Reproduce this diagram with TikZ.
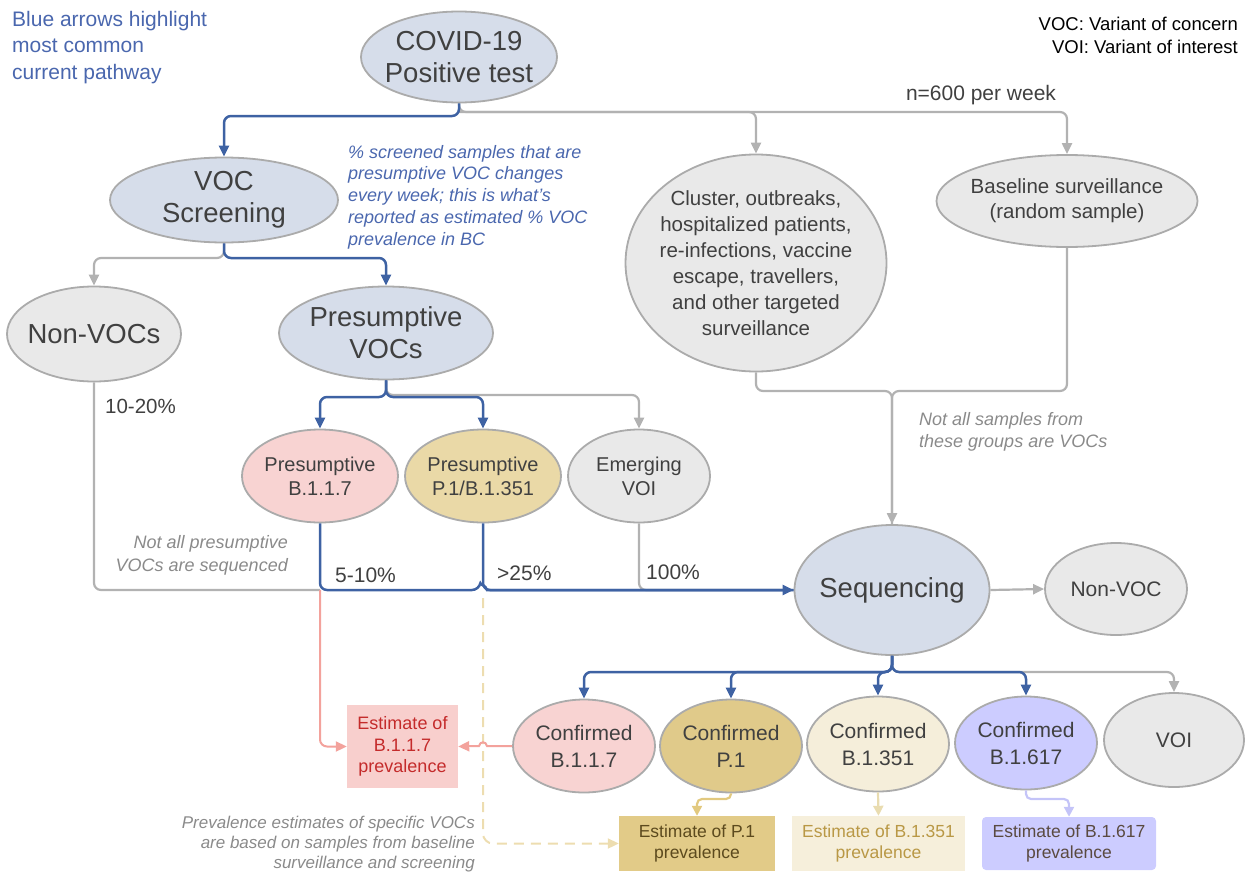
\documentclass[tikz,border=0pt]{standalone}
\usepackage{fontspec}
\setmainfont{Liberation Sans}
\usetikzlibrary{shapes.geometric,arrows.meta,calc}
\definecolor{ellblue}{HTML}{D6DDEA}
\definecolor{ellgray}{HTML}{E9E9E9}
\definecolor{ellpink}{HTML}{F8D3D2}
\definecolor{elltan}{HTML}{EAD9A7}
\definecolor{ellgold}{HTML}{E0CA8A}
\definecolor{ellcream}{HTML}{F5EEDA}
\definecolor{elllav}{HTML}{CCCCFF}
\definecolor{bordc}{HTML}{ABABAB}
\definecolor{txtc}{HTML}{404040}
\definecolor{bluec}{HTML}{3E62A3}
\definecolor{grayc}{HTML}{B2B2B2}
\definecolor{pinkc}{HTML}{F3A29C}
\definecolor{bluetxt}{HTML}{4A67AE}
\definecolor{itgray}{HTML}{8A8A8A}
\definecolor{dashc}{HTML}{EDDDB0}
\definecolor{goldarr}{HTML}{E2C97F}
\definecolor{creamarr}{HTML}{E9DCB0}
\definecolor{lavarr}{HTML}{C4C4F8}
\definecolor{estpink}{HTML}{F8CFCD}
\definecolor{estgold}{HTML}{E2CB88}
\definecolor{estcream}{HTML}{F6EFDB}
\definecolor{redtxt}{HTML}{C42B2B}
\definecolor{browntxt}{HTML}{5C4A1E}
\definecolor{goldtxt}{HTML}{B99845}
\definecolor{lavtxt}{HTML}{5A4A40}
\begin{document}
\begin{tikzpicture}[x=1pt,y=-1pt,
  ell/.style={ellipse, draw=bordc, line width=1.8pt, inner sep=0pt},
  txt/.style={align=center, text=txtc, inner sep=0pt},
  big/.style={font=\fontsize{27.5}{32}\selectfont},
  mid/.style={font=\fontsize{20}{24}\selectfont},
  clf/.style={font=\fontsize{20.5}{26}\selectfont},
  cnf/.style={font=\fontsize{21}{27}\selectfont},
  est/.style={rectangle, inner sep=0pt, align=center, font=\fontsize{17.5}{21}\selectfont},
  tipb/.style={-{Triangle[length=11pt,width=10pt]}},
  bline/.style={draw=bluec, line width=2.5pt, rounded corners=7pt},
  gline/.style={draw=grayc, line width=2.2pt, rounded corners=7pt},
  barr/.style={bline, tipb},
  garr/.style={gline, tipb},
  pinkarr/.style={draw=pinkc, line width=2pt, rounded corners=7pt, -{Triangle[length=11pt,width=10pt]}},
  dasharr/.style={draw=dashc, line width=2pt, rounded corners=10pt, dash pattern=on 10pt off 7pt, -{Triangle[length=11pt,width=10pt]}},
  smallarr/.style={line width=2.2pt, rounded corners=5pt, -{Triangle[length=10pt,width=10pt]}},
  ital/.style={inner sep=0pt, font=\itshape}
]
\useasboundingbox (0,0) rectangle (1246,875);

% ---------- ellipse nodes ----------
\node[ell, fill=ellblue, minimum width=196pt, minimum height=91pt] (covid) at (459,57) {};
\node[txt, big] (covidt) at (covid) {COVID-19\\Positive test};

\node[ell, fill=ellblue, minimum width=228pt, minimum height=85pt] (voc) at (224,200) {};
\node[txt, big] (voct) at (voc) {VOC\\Screening};

\node[ell, fill=ellgray, minimum width=174pt, minimum height=95pt] (nonvocs) at (94,334) {};
\node[txt, big] (nonvocst) at (nonvocs) {Non-VOCs};

\node[ell, fill=ellblue, minimum width=214pt, minimum height=93pt] (pvocs) at (386,333) {};
\node[txt, big] (pvocst) at (pvocs) {Presumptive\\VOCs};

\node[ell, fill=ellpink, minimum width=156pt, minimum height=93pt] (pb117) at (320,476) {};
\node[txt, mid] (pb117t) at (pb117) {Presumptive\\B.1.1.7};

\node[ell, fill=elltan, minimum width=156pt, minimum height=93pt] (pp1) at (483,476) {};
\node[txt, mid] (pp1t) at (pp1) {Presumptive\\P.1/B.1.351};

\node[ell, fill=ellgray, minimum width=142pt, minimum height=93pt] (emerg) at (639,476) {};
\node[txt, mid] (emergt) at (emerg) {Emerging\\VOI};

\node[ell, fill=ellgray, minimum width=261pt, minimum height=217pt] (clus) at (756,263) {};
\node[txt, clf] (clust) at (clus) {Cluster, outbreaks,\\hospitalized patients,\\re-infections, vaccine\\escape, travellers,\\and other targeted\\surveillance};

\node[ell, fill=ellgray, minimum width=261pt, minimum height=92pt] (base) at (1067,201) {};
\node[txt, font=\fontsize{20.5}{25}\selectfont] (baset) at (base) {Baseline surveillance\\(random sample)};

\node[ell, fill=ellblue, minimum width=195pt, minimum height=130pt] (seq) at (892,590) {};
\node[txt, big] (seqt) at (seq) {Sequencing};

\node[ell, fill=ellgray, minimum width=142pt, minimum height=92pt] (nonvoc) at (1116,589) {};
\node[txt, cnf] (nonvoct) at (nonvoc) {Non-VOC};

\node[ell, fill=ellpink, minimum width=142pt, minimum height=93pt] (cb117) at (584,746) {};
\node[txt, cnf] (cb117t) at (cb117) {Confirmed\\B.1.1.7};

\node[ell, fill=ellgold, minimum width=142pt, minimum height=93pt] (cp1) at (731,746) {};
\node[txt, cnf] (cp1t) at (cp1) {Confirmed\\P.1};

\node[ell, fill=ellcream, minimum width=142pt, minimum height=95pt] (cb1351) at (878,744) {};
\node[txt, cnf] (cb1351t) at (cb1351) {Confirmed\\B.1.351};

\node[ell, fill=elllav, minimum width=142pt, minimum height=93pt] (cb1617) at (1026,743) {};
\node[txt, cnf] (cb1617t) at (cb1617) {Confirmed\\B.1.617};

\node[ell, fill=ellgray, minimum width=140pt, minimum height=94pt] (voi) at (1174,740) {};
\node[txt, cnf] (voit) at (voi) {VOI};

% ---------- estimate boxes ----------
\node[est, fill=estpink, text=redtxt, minimum width=111pt, minimum height=83pt, font=\fontsize{18}{21.5}\selectfont] (estb117) at (402.5,746.5) {Estimate of\\B.1.1.7\\prevalence};
\node[est, fill=estgold, text=browntxt, minimum width=156pt, minimum height=55pt] (estp1) at (697,843.5) {Estimate of P.1\\prevalence};
\node[est, fill=estcream, text=goldtxt, minimum width=173pt, minimum height=55pt] (estb1351) at (878.5,843.5) {Estimate of B.1.351\\prevalence};
\node[est, fill=elllav, text=lavtxt, minimum width=174pt, minimum height=53pt, rounded corners=4pt] (estb1617) at (1069,843.5) {Estimate of B.1.617\\prevalence};

% ---------- free texts ----------
\node[inner sep=0pt, anchor=north west, align=left, text=bluetxt, font=\fontsize{21}{26.5}\selectfont] (note1) at (12,11) {Blue arrows highlight\\most common\\current pathway};
\node[inner sep=0pt, anchor=north east, align=right, text=black, font=\fontsize{18.5}{23}\selectfont] (legend) at (1238,16.5) {VOC: Variant of concern\\VOI: Variant of interest};
\node[inner sep=0pt, anchor=base, text=txtc, font=\fontsize{21}{25}\selectfont] (n600) at (981,100) {n=600 per week};
\node[ital, anchor=north west, align=left, text=bluetxt, font=\itshape\fontsize{18}{21.7}\selectfont] (scrnote) at (348,145) {\% screened samples that are\\presumptive VOC changes\\every week; this is what’s\\reported as estimated \% VOC\\prevalence in BC};
\node[inner sep=0pt, anchor=base west, text=txtc, font=\fontsize{20.5}{24}\selectfont] (p1020) at (105,413) {10-20\%};
\node[ital, anchor=north east, align=right, text=itgray, font=\itshape\fontsize{18}{23}\selectfont] (notall) at (288,535) {Not all presumptive\\VOCs are sequenced};
\node[inner sep=0pt, anchor=base west, text=txtc, font=\fontsize{21}{24}\selectfont] (p510) at (335,582) {5-10\%};
\node[inner sep=0pt, anchor=base west, text=txtc, font=\fontsize{21}{24}\selectfont] (p25) at (497,580) {>25\%};
\node[inner sep=0pt, anchor=base west, text=txtc, font=\fontsize{21}{24}\selectfont] (p100) at (646,579) {100\%};
\node[ital, anchor=north west, align=left, text=itgray, font=\itshape\fontsize{18}{22}\selectfont] (notsamp) at (919,412) {Not all samples from\\these groups are VOCs};
\node[ital, anchor=north east, align=right, text=itgray, font=\itshape\fontsize{17}{20}\selectfont] (prevnote) at (475,816) {Prevalence estimates of specific VOCs\\are based on samples from baseline\\surveillance and screening};

% ---------- levels ----------
\coordinate (lA) at (0,116);
\coordinate (lAg) at (0,112);
\coordinate (lB) at (0,258);
\coordinate (lC) at (0,397);
\coordinate (lCg) at (0,395);
\coordinate (lD) at (0,391);
\coordinate (lE) at (0,672);
\coordinate (lF) at (0,799);
\coordinate (hb) at (pp1.south |- seq.west);
\coordinate (hp) at (pp1.south |- cb117.west);

% ---------- connectors ----------
% from COVID test
\draw[garr] (covid.south) -- (covid.south |- lAg) -| (base.north);
\draw[garr] (covid.south |- lAg) -| (clus.north);
\draw[barr] (covid.south) -- (covid.south |- lA) -| (voc.north);

% from VOC screening
\draw[garr] (voc.south) -- (voc.south |- lB) -| (nonvocs.north);
\draw[barr] (voc.south) -- (voc.south |- lB) -| (pvocs.north);

% from presumptive VOCs
\draw[garr] (pvocs.south) -- (pvocs.south |- lCg) -| (emerg.north);
\draw[barr] (pvocs.south) -- (pvocs.south |- lC) -| (pp1.north);
\draw[barr] (pvocs.south) -- (pvocs.south |- lC) -| (pb117.north);

% cluster / baseline to sequencing
\draw[gline] (base.south) -- (base.south |- lD) -| (seq.north);
\draw[garr] (clus.south) -- (clus.south |- lD) -| (seq.north);

% into sequencing
\draw[gline] (nonvocs.south) |- (pb117.south |- seq.west);
\draw[gline] (emerg.south) |- (seq.west);
\draw[pinkarr] (pb117.south |- seq.west) |- (estb117.west);
\draw[dasharr] ($(hb)+(0,8)$) |- (estp1.west);
\draw[bline] (pp1.south) |- (seq.west);
\draw[barr] (pb117.south) -- (pb117.south |- seq.west) -- ($(hb)+(-4,0)$) [sharp corners] .. controls ($(hb)+(-3,-5)$) and ($(hb)+(3,-5)$) .. ($(hb)+(4,0)$) -- (seq.west);

% sequencing outputs
\draw[garr] (seq.east) -- (nonvoc.west);
\draw[garr] (seq.south) -- (seq.south |- lE) -| (voi.north);
\draw[barr] (seq.south) -- (seq.south |- lE) -| (cb117.north);
\draw[barr] (seq.south) -- (seq.south |- lE) -| (cp1.north);
\draw[barr] (seq.south) -- (seq.south |- lE) -| (cb1351.north);
\draw[barr] (seq.south) -- (seq.south |- lE) -| (cb1617.north);

% confirmed to estimates
\draw[pinkarr, sharp corners] (cb117.west) -- ($(hp)+(4,0)$) .. controls ($(hp)+(3,-5)$) and ($(hp)+(-3,-5)$) .. ($(hp)+(-4,0)$) -- (estb117.east);
\draw[smallarr, draw=goldarr] (cp1.south) -- (cp1.south |- lF) -| (estp1.north);
\draw[smallarr, draw=creamarr] (cb1351.south) -- (estb1351.north);
\draw[smallarr, draw=lavarr] (cb1617.south) -- (cb1617.south |- lF) -| (estb1617.north);
\end{tikzpicture}
\end{document}
